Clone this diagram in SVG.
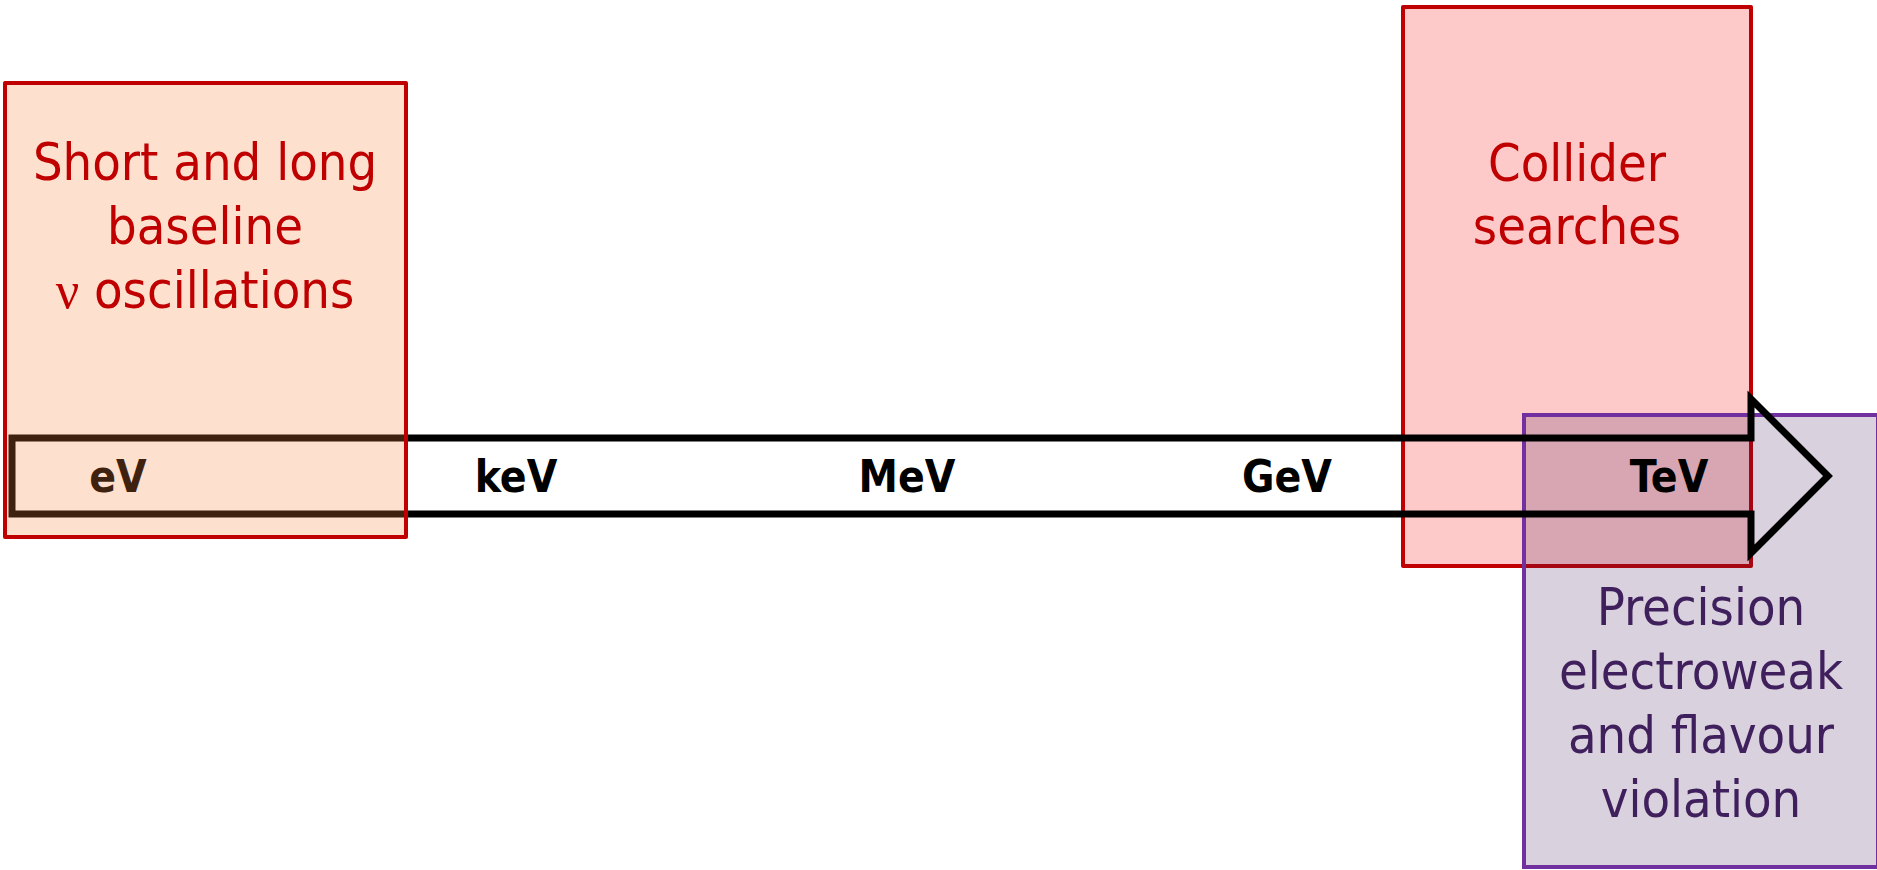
<svg xmlns="http://www.w3.org/2000/svg" width="1877" height="870" viewBox="0 0 1877 870">
  <style>
    .body { font-family: "DejaVu Sans Condensed", "DejaVu Sans", sans-serif; font-stretch: condensed; font-size: 52px; text-anchor: middle; }
    .greek { font-family: "Liberation Serif", serif; font-stretch: normal; }
    .red { fill: #C00000; }
    .violet { fill: #3F1F5C; }
    .scale { font-family: "DejaVu Sans Condensed", "DejaVu Sans", sans-serif; font-stretch: condensed; font-weight: bold; font-size: 44px; text-anchor: middle; fill: #000; }
  </style>
  <rect width="1877" height="870" fill="#ffffff"/>

  <!-- collider searches region -->
  <g id="collider">
    <rect x="1403" y="7" width="348" height="559" fill="#FDC9C9" stroke="#C00000" stroke-width="4" stroke-linejoin="round"/>
    <text class="body red" x="1577" y="181">Collider</text>
    <text class="body red" x="1577" y="244">searches</text>
  </g>

  <!-- precision / flavour region, translucent over the collider box -->
  <g id="precision">
    <rect x="1524" y="415" width="354" height="452" fill="#3F1F5C" fill-opacity="0.2" stroke="#7030A0" stroke-width="4"/>
    <text class="body violet" x="1701" y="625">Precision</text>
    <text class="body violet" x="1701" y="689">electroweak</text>
    <text class="body violet" x="1701" y="753">and flavour</text>
    <text class="body violet" x="1701" y="817">violation</text>
  </g>

  <!-- energy scale arrow -->
  <g id="connectors">
    <polygon id="energy-axis" points="12,438 1751,438 1751,399 1828,476 1751,553 1751,514 12,514" fill="none" stroke="#000" stroke-width="7" stroke-linejoin="miter"/>
  </g>
  <g id="scale-labels">
    <text class="scale" x="118" y="492">eV</text>
    <text class="scale" x="516" y="492">keV</text>
    <text class="scale" x="907" y="492">MeV</text>
    <text class="scale" x="1287" y="492">GeV</text>
    <text class="scale" x="1669" y="492">TeV</text>
  </g>

  <!-- neutrino oscillation region, translucent over the arrow -->
  <g id="oscillations">
    <rect x="5" y="83" width="401" height="454" fill="#F8843C" fill-opacity="0.25" stroke="#C00000" stroke-width="4" stroke-linejoin="round"/>
    <text class="body red" x="205" y="180">Short and long</text>
    <text class="body red" x="205" y="244">baseline</text>
    <text class="body red" x="205" y="308"><tspan class="greek">ν</tspan> oscillations</text>
  </g>
</svg>
